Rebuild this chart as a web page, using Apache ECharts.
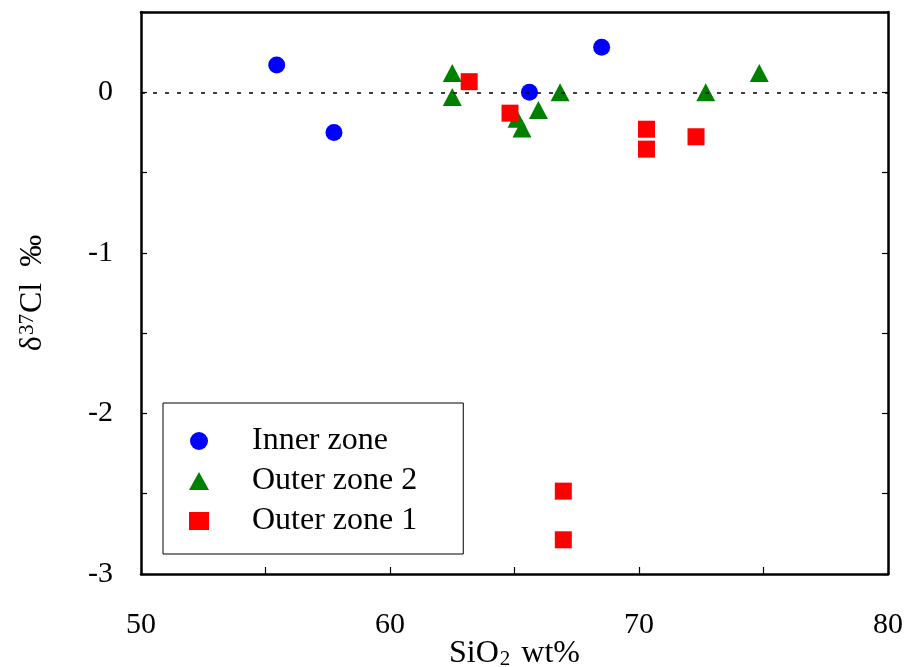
<!DOCTYPE html>
<html>
<head>
<meta charset="utf-8">
<script src="https://cdn.jsdelivr.net/npm/echarts@6/dist/echarts.min.js"></script>
<style>
  html, body { margin: 0; padding: 0; background: #fff; }
  #chart { width: 906px; height: 667px; }
</style>
</head>
<body>
<div id="chart"></div>
<script>
// SiO2 (wt%) vs δ37Cl (‰) by zone
const seriesNames = ['Inner zone', 'Outer zone 2', 'Outer zone 1'];

const innerZone = [
  [55.45, 0.17], [57.75, -0.25], [65.6, 0.0], [68.5, 0.28]
];
const outerZone2 = [
  [62.5, 0.12], [62.5, -0.03], [65.1, -0.165], [65.3, -0.225],
  [65.96, -0.11], [66.83, 0.0], [72.68, 0.0], [74.83, 0.12]
];
const outerZone1 = [
  [63.18, 0.066], [64.82, -0.13], [70.3, -0.23], [70.3, -0.354],
  [72.29, -0.277], [66.96, -2.484], [66.96, -2.787]
];

const xTicks = { min: 50, max: 80, interval: 5, labelStep: 10 };
const yTicks = { min: -3, max: 0.5, interval: 0.5, labelStep: 1 };

const FONT = '"Liberation Serif", "Times New Roman", serif';
const axisColor = '#000';

const chart = echarts.init(document.getElementById('chart'), null, { renderer: 'canvas' });

chart.setOption({
  backgroundColor: '#fff',
  animation: false,
  grid: {
    left: 141, right: 18, top: 12, bottom: 93,
    containLabel: false, outerBoundsMode: 'none'
  },
  legend: {
    orient: 'vertical',
    left: 163,
    top: 403,
    padding: [22, 46, 17, 26],
    itemGap: 8,
    itemWidth: 20,
    itemHeight: 18,
    borderColor: '#000',
    borderWidth: 1,
    data: seriesNames,
    textStyle: {
      fontFamily: FONT, fontSize: 32, color: '#000',
      lineHeight: 30, padding: [0, 0, 0, 38]
    }
  },
  xAxis: [{
    type: 'value',
    min: xTicks.min, max: xTicks.max, interval: xTicks.interval,
    name: '{t|SiO}{sub|2}{t| wt%}',
    nameLocation: 'middle',
    nameGap: 64,
    nameMoveOverlap: false,
    nameTextStyle: {
      rich: {
        t: { fontFamily: FONT, fontSize: 32, color: '#000', lineHeight: 32 },
        sub: { fontFamily: FONT, fontSize: 21, color: '#000', lineHeight: 28, verticalAlign: 'bottom', padding: [0, 3, 0, 1] }
      }
    },
    axisLine: { show: true, onZero: false, lineStyle: { color: axisColor, width: 2.5 } },
    axisTick: { show: true, inside: true, length: 7, lineStyle: { color: axisColor, width: 1.2 } },
    axisLabel: {
      margin: 36, fontFamily: FONT, fontSize: 30, color: '#000',
      formatter: v => (v % xTicks.labelStep === 0 ? String(v) : '')
    },
    splitLine: { show: false }
  }, {
    type: 'value', position: 'top',
    min: xTicks.min, max: xTicks.max, interval: xTicks.interval,
    axisLine: { show: true, onZero: false, lineStyle: { color: axisColor, width: 2.5 } },
    axisTick: { show: false }, axisLabel: { show: false }, splitLine: { show: false }
  }],
  yAxis: [{
    type: 'value',
    min: yTicks.min, max: yTicks.max, interval: yTicks.interval,
    name: '{t|δ}{sup|37}{t|Cl  ‰}',
    nameLocation: 'middle',
    nameRotate: 90,
    nameGap: 92,
    nameTextStyle: {
      rich: {
        t: { fontFamily: FONT, fontSize: 32, color: '#000', lineHeight: 32 },
        sup: { fontFamily: FONT, fontSize: 21, color: '#000', lineHeight: 32, verticalAlign: 'top', padding: [0, 1, 0, 1] }
      }
    },
    axisLine: { show: true, onZero: false, lineStyle: { color: axisColor, width: 2.5 } },
    axisTick: { show: true, inside: true, length: 6, lineStyle: { color: axisColor, width: 1.2 } },
    axisLabel: {
      margin: 28, fontFamily: FONT, fontSize: 30, color: '#000',
      formatter: v => (Math.abs(v % yTicks.labelStep) < 1e-9 ? String(v) : '')
    },
    splitLine: { show: false }
  }, {
    type: 'value', position: 'right',
    min: yTicks.min, max: yTicks.max, interval: yTicks.interval,
    axisLine: { show: true, onZero: false, lineStyle: { color: axisColor, width: 2.5 } },
    axisTick: { show: true, inside: true, length: 6, lineStyle: { color: axisColor, width: 1.2 } },
    axisLabel: { show: false }, splitLine: { show: false }
  }],
  series: [
    {
      name: seriesNames[0], type: 'scatter', data: innerZone,
      symbol: 'circle', symbolSize: 17,
      itemStyle: { color: '#0000ff', opacity: 1 },
      markLine: {
        silent: true, symbol: 'none', label: { show: false },
        lineStyle: { color: '#000', type: [4, 8], width: 1.5 },
        data: [{ yAxis: 0 }]
      },
      z: 3
    },
    {
      name: seriesNames[1], type: 'scatter', data: outerZone2,
      symbol: 'triangle', symbolSize: [19, 18],
      itemStyle: { color: '#008000', opacity: 1 },
      z: 4
    },
    {
      name: seriesNames[2], type: 'scatter', data: outerZone1,
      symbol: 'rect', symbolSize: 17,
      itemStyle: { color: '#ff0000', opacity: 1 },
      z: 5
    }
  ]
});
</script>
</body>
</html>
